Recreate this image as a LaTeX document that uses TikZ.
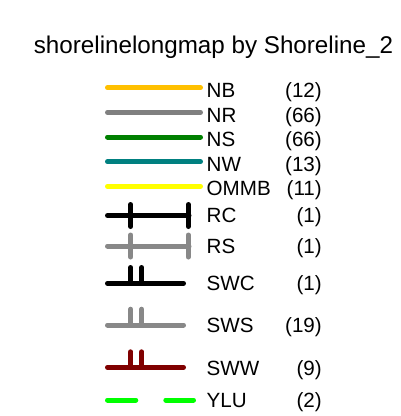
\documentclass[tikz,border=0pt]{standalone}
\usepackage{fontspec}
\setmainfont{Liberation Sans}
\definecolor{cNB}{RGB}{255,192,0}
\definecolor{cNR}{RGB}{128,128,128}
\definecolor{cNS}{RGB}{0,128,0}
\definecolor{cNW}{RGB}{0,128,128}
\definecolor{cOMMB}{RGB}{255,255,0}
\definecolor{cRS}{RGB}{136,136,136}
\definecolor{cSWW}{RGB}{128,0,0}
\definecolor{cYLU}{RGB}{0,255,0}
\begin{document}
\begin{tikzpicture}[x=1pt,y=-1pt,
  sym/.style={line width=5pt,line cap=round},
  lab/.style={anchor=base west,inner sep=0pt,font=\fontsize{20.6}{20.6}\selectfont},
  cnt/.style={anchor=base east,inner sep=0pt,font=\fontsize{20.6}{20.6}\selectfont},
  ttl/.style={anchor=base,inner sep=0pt,font=\fontsize{24.2}{24.2}\selectfont}]
\useasboundingbox[fill=white] (0,0) rectangle (400,416);
\node[ttl] (title) at (213.5,53.3) {shorelinelongmap by Shoreline\_2};
% NB..OMMB
\draw[sym,cNB] (107.5,87.7) -- (200.5,87.7);
\node[lab] (lNB) at (206.5,97.3) {NB};
\node[cnt] (nNB) at (322,97.3) {(12)};
\draw[sym,cNR] (107.5,112.4) -- (200.5,112.4);
\node[lab] (lNR) at (206.5,122) {NR};
\node[cnt] (nNR) at (322,122) {(66)};
\draw[sym,cNS] (107.5,137.1) -- (200.5,137.1);
\node[lab] (lNS) at (206.5,146.7) {NS};
\node[cnt] (nNS) at (322,146.7) {(66)};
\draw[sym,cNW] (107.5,161.8) -- (200.5,161.8);
\node[lab] (lNW) at (206.5,171.4) {NW};
\node[cnt] (nNW) at (322,171.4) {(13)};
\draw[sym,cOMMB] (107.5,186.3) -- (200.5,186.3);
\node[lab] (lOMMB) at (206.5,195.9) {OMMB};
\node[cnt] (nOMMB) at (322,195.9) {(11)};
% RC
\draw[sym,black] (107.5,215.5) -- (189,215.5);
\draw[sym,black] (130.7,204.5) -- (130.7,226.5);
\draw[sym,black] (188.3,204.5) -- (188.3,226.5);
\node[lab] (lRC) at (206.5,222.5) {RC};
\node[cnt] (nRC) at (322,222.5) {(1)};
% RS
\draw[sym,cRS] (107.5,246) -- (189,246);
\draw[sym,cRS] (130.7,235) -- (130.7,257);
\draw[sym,cRS] (188.3,235) -- (188.3,257);
\node[lab] (lRS) at (206.5,253.3) {RS};
\node[cnt] (nRS) at (322,253.3) {(1)};
% SWC
\draw[sym,black] (107.5,283.3) -- (183.5,283.3);
\draw[sym,black] (130.7,267.5) -- (130.7,283.3);
\draw[sym,black] (141.7,267.5) -- (141.7,283.3);
\node[lab] (lSWC) at (206.5,290.7) {SWC};
\node[cnt] (nSWC) at (322,290.7) {(1)};
% SWS
\draw[sym,cRS] (107.5,325) -- (183.5,325);
\draw[sym,cRS] (130.7,309.2) -- (130.7,325);
\draw[sym,cRS] (141.7,309.2) -- (141.7,325);
\node[lab] (lSWS) at (206.5,332.7) {SWS};
\node[cnt] (nSWS) at (322,332.7) {(19)};
% SWW
\draw[sym,cSWW] (107.5,367.3) -- (183.5,367.3);
\draw[sym,cSWW] (130.7,351.8) -- (130.7,367.3);
\draw[sym,cSWW] (141.7,351.8) -- (141.7,367.3);
\node[lab] (lSWW) at (206.5,375) {SWW};
\node[cnt] (nSWW) at (322,375) {(9)};
% YLU
\draw[sym,cYLU] (107.5,400) -- (135.8,400);
\draw[sym,cYLU] (165.8,400) -- (193.5,400);
\node[lab] (lYLU) at (206.5,407.5) {YLU};
\node[cnt] (nYLU) at (322,407.5) {(2)};
\end{tikzpicture}
\end{document}
